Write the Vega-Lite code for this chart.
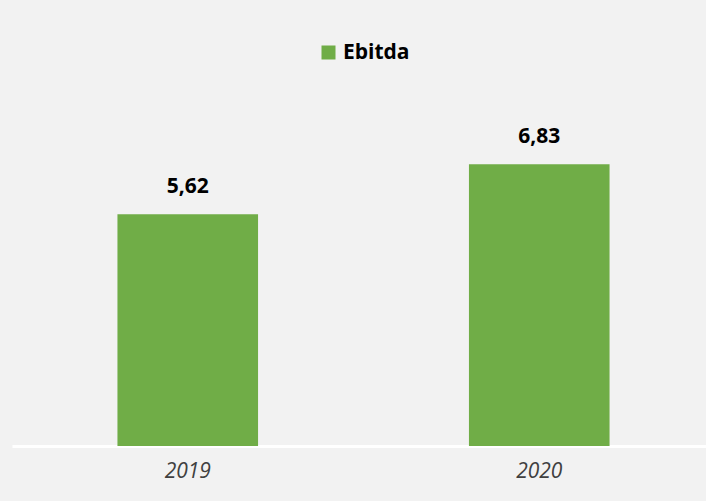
{
  "$schema": "https://vega.github.io/schema/vega-lite/v6.json",
  "autosize": "none",
  "width": 703,
  "height": 330,
  "padding": {"left": 12, "top": 116, "right": 0, "bottom": 55},
  "background": "#f2f2f2",
  "config": {
    "view": {"stroke": null},
    "locale": {"number": {"decimal": ",", "thousands": ".", "grouping": [3], "currency": ["", " €"]}},
    "font": "Open Sans"
  },
  "data": {"values": [
    {"year": "2019", "series": "Ebitda", "value": 5.62},
    {"year": "2020", "series": "Ebitda", "value": 6.83}
  ]},
  "encoding": {
    "x": {
      "field": "year", "type": "nominal",
      "scale": {"paddingInner": 0.6, "paddingOuter": 0.3},
      "axis": {
        "title": null, "labelAngle": 0, "ticks": false,
        "domainColor": "#ffffff", "domainWidth": 3,
        "labelFont": "Open Sans", "labelFontStyle": "italic", "labelFontSize": 21,
        "labelColor": "#404040", "labelPadding": 14
      }
    },
    "y": {
      "field": "value", "type": "quantitative",
      "scale": {"domain": [0, 8]},
      "axis": null
    }
  },
  "layer": [
    {
      "mark": {"type": "bar", "color": "#70ad47"},
      "encoding": {
        "color": {
          "field": "series", "type": "nominal",
          "scale": {"range": ["#70ad47"]},
          "legend": {
            "title": null, "orient": "none", "legendX": 306, "legendY": -74,
            "symbolType": "square", "symbolSize": 196, "symbolStrokeWidth": 0,
            "labelFont": "Open Sans", "labelFontSize": 21, "labelFontWeight": "bold",
            "labelColor": "#000000", "labelOffset": 4
          }
        }
      }
    },
    {
      "mark": {"type": "text", "dy": -17, "baseline": "bottom", "font": "Open Sans", "fontSize": 21, "fontWeight": "bold", "color": "#000000"},
      "encoding": {
        "text": {"field": "value", "type": "quantitative", "format": ".2f"}
      }
    }
  ]
}
